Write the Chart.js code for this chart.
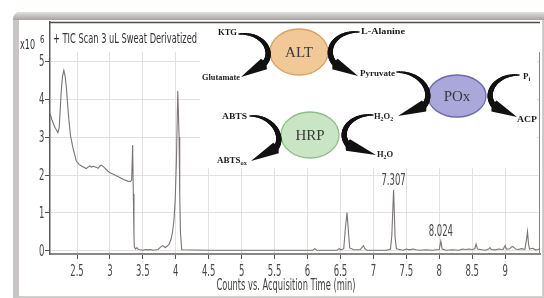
<!DOCTYPE html>
<html>
<head>
<meta charset="utf-8">
<script src="https://cdn.jsdelivr.net/npm/chart.js@4.4.1/dist/chart.umd.min.js"></script>
<style>
  html, body { margin: 0; padding: 0; background: #fff; }
  canvas { display: block; }
</style>
</head>
<body>
<canvas id="tic" width="544" height="298"></canvas>
<script>
// retention time (min) and TIC counts (x10^6)
const retentionTimes = [
  2.09, 2.12, 2.16, 2.19, 2.21, 2.23, 2.26, 2.28, 2.30, 2.32, 2.34, 2.37, 2.40, 2.44, 2.49,
  2.53, 2.57, 2.61, 2.64, 2.67, 2.69, 2.72, 2.75, 2.77, 2.80, 2.82, 2.85, 2.87, 2.90, 2.92,
  2.97, 3.01, 3.05, 3.12, 3.20, 3.27, 3.31, 3.33, 3.345, 3.355, 3.365, 3.37, 3.39, 3.41, 3.43,
  3.46, 3.50, 3.54, 3.58, 3.62, 3.65, 3.70, 3.73, 3.77, 3.80, 3.84, 3.87, 3.90, 3.93, 3.95,
  3.97, 3.99, 4.01, 4.03, 4.05, 4.06, 4.07, 4.09, 4.50, 5.00, 5.50, 6.08, 6.11, 6.14, 6.45,
  6.48, 6.51, 6.55, 6.575, 6.60, 6.62, 6.64, 6.70, 6.80, 6.83, 6.85, 6.87, 6.90, 7.20, 7.26,
  7.28, 7.307, 7.33, 7.35, 7.40, 7.45, 7.50, 7.55, 7.60, 7.65, 7.70, 7.80, 7.90, 7.95, 8.00,
  8.024, 8.045, 8.10, 8.20, 8.30, 8.35, 8.40, 8.45, 8.50, 8.54, 8.56, 8.58, 8.65, 8.70, 8.75,
  8.77, 8.79, 8.85, 8.90, 8.97, 9.00, 9.02, 9.07, 9.11, 9.13, 9.16, 9.20, 9.25, 9.30, 9.325,
  9.34, 9.355, 9.37, 9.42, 9.46, 9.50, 9.53
]
const ticCounts = [
  3.62, 3.45, 3.27, 3.18, 3.12, 3.25, 4.19, 4.60, 4.76, 4.60, 4.28, 3.58, 3.05, 2.70, 2.37,
  2.28, 2.24, 2.20, 2.17, 2.21, 2.24, 2.21, 2.23, 2.22, 2.20, 2.18, 2.24, 2.26, 2.22, 2.19,
  2.10, 2.05, 2.02, 1.96, 1.89, 1.84, 1.83, 1.86, 2.79, 1.50, 0.40, 0.11, 0.05, 0.09, 0.04,
  0.03, 0.02, 0.04, 0.03, 0.04, 0.02, 0.03, 0.04, 0.10, 0.14, 0.09, 0.13, 0.18, 0.32, 0.50,
  0.77, 1.30, 2.40, 4.21, 3.00, 1.50, 0.50, 0.03, 0.02, 0.02, 0.02, 0.02, 0.06, 0.02, 0.02,
  0.06, 0.03, 0.06, 0.60, 1.01, 0.55, 0.08, 0.03, 0.03, 0.10, 0.14, 0.06, 0.02, 0.02, 0.05,
  0.40, 1.61, 0.35, 0.06, 0.04, 0.02, 0.05, 0.03, 0.05, 0.03, 0.02, 0.03, 0.02, 0.03, 0.04,
  0.26, 0.05, 0.02, 0.03, 0.02, 0.05, 0.04, 0.05, 0.04, 0.06, 0.18, 0.05, 0.03, 0.02, 0.05,
  0.09, 0.04, 0.03, 0.05, 0.04, 0.14, 0.05, 0.06, 0.12, 0.10, 0.05, 0.04, 0.06, 0.04, 0.30,
  0.51, 0.20, 0.05, 0.07, 0.03, 0.04, 0.05
]
const xTickValues = [2.5, 3, 3.5, 4, 4.5, 5, 5.5, 6, 6.5, 7, 7.5, 8, 8.5, 9]
const yTickValues = [0, 1, 2, 3, 4, 5]
const peakTimes = [7.307, 8.024]
const peakNames = ['7.307', '8.024']

const SANS = "'Liberation Sans Narrow', 'DejaVu Sans Condensed', 'Liberation Sans', sans-serif"
const SERIF = "'Liberation Serif', 'DejaVu Serif', serif"

function fitText(ctx, s, x, y, font, align, w, color) {
  ctx.save()
  ctx.font = font
  ctx.fillStyle = color || '#333'
  ctx.textBaseline = 'middle'
  ctx.textAlign = align
  const sx = w ? w / ctx.measureText(s).width : 1
  ctx.translate(x, y)
  ctx.scale(sx, 1)
  ctx.fillText(s, 0, 0)
  ctx.restore()
}

// text with subscripts, pieces = [[text, isSub], ...]
function richText(ctx, pieces, x, y, size, bold) {
  ctx.save()
  ctx.fillStyle = '#1c1c1c'
  ctx.textBaseline = 'middle'
  ctx.textAlign = 'left'
  let cx = x
  pieces.forEach(p => {
    const fs = p[1] ? size * 0.7 : size
    ctx.font = (bold ? 'bold ' : '') + fs + 'px ' + SERIF
    ctx.fillText(p[0], cx, p[1] ? y + 2.5 : y)
    cx += ctx.measureText(p[0]).width
  })
  ctx.restore()
}

function bez(p0, c1, c2, p3, t) {
  const u = 1 - t
  return [
    u*u*u*p0[0] + 3*u*u*t*c1[0] + 3*u*t*t*c2[0] + t*t*t*p3[0],
    u*u*u*p0[1] + 3*u*u*t*c1[1] + 3*u*t*t*c2[1] + t*t*t*p3[1]
  ]
}

function curvedArrow(ctx, p0, c1, c2, p3, tip) {
  ctx.save()
  ctx.strokeStyle = '#111'
  ctx.fillStyle = '#111'
  ctx.lineCap = 'round'
  const n = 28
  let prev = p0
  for (let i = 1; i <= n; i++) {
    const pt = bez(p0, c1, c2, p3, i / n)
    ctx.lineWidth = 1.3 + 4.2 * Math.sin(Math.PI * 0.5 * i / n)
    ctx.beginPath()
    ctx.moveTo(prev[0], prev[1])
    ctx.lineTo(pt[0], pt[1])
    ctx.stroke()
    prev = pt
  }
  const dx = tip[0] - p3[0], dy = tip[1] - p3[1]
  const len = Math.hypot(dx, dy)
  const nx = -dy / len, ny = dx / len
  const hw = 6
  ctx.beginPath()
  ctx.moveTo(tip[0], tip[1])
  ctx.lineTo(p3[0] + nx * hw, p3[1] + ny * hw)
  ctx.lineTo(p3[0] - dx * 0.1, p3[1] - dy * 0.1)
  ctx.lineTo(p3[0] - nx * hw, p3[1] - ny * hw)
  ctx.closePath()
  ctx.fill()
  ctx.restore()
}

function enzyme(ctx, cx, cy, rx, ry, fill, stroke, label) {
  ctx.save()
  ctx.beginPath()
  ctx.ellipse(cx, cy, rx, ry, 0, 0, Math.PI * 2)
  ctx.fillStyle = fill
  ctx.fill()
  ctx.lineWidth = 1.3
  ctx.strokeStyle = stroke
  ctx.stroke()
  ctx.restore()
  fitText(ctx, label, cx, cy + 1, '15px ' + SERIF, 'center', 0, '#3a3a3a')
}

const framePlugin = {
  id: 'frame',
  beforeDraw(chart) {
    const ctx = chart.ctx
    ctx.save()
    ctx.fillStyle = '#fff'
    ctx.fillRect(0, 0, 544, 298)
    ctx.beginPath()
    ctx.roundRect(13, 12, 540, 300, 7)
    ctx.fillStyle = '#cbc6c6'
    ctx.fill()
    const g = ctx.createLinearGradient(0, 12, 0, 20)
    g.addColorStop(0, '#e2dfdf')
    g.addColorStop(1, '#a7a2a2')
    ctx.save()
    ctx.clip()
    ctx.fillStyle = g
    ctx.fillRect(13, 12, 540, 8)
    ctx.restore()
    ctx.fillStyle = '#fff'
    ctx.fillRect(19, 20, 524, 277)
    ctx.strokeStyle = '#d4d0d0'
    ctx.lineWidth = 1
    ctx.beginPath()
    ctx.moveTo(19, 296.5); ctx.lineTo(542.5, 296.5); ctx.lineTo(542.5, 20)
    ctx.stroke()
    ctx.restore()
  },
  beforeDatasetsDraw(chart) {
    const ctx = chart.ctx
    const a = chart.chartArea
    ctx.save()
    // white panels for the title and the reaction scheme
    ctx.fillStyle = '#fff'
    ctx.fillRect(a.left + 1, a.top, 487, 30)
    ctx.fillRect(200, a.top, 337, 146)
    ctx.strokeStyle = '#4d4d4d'
    ctx.lineWidth = 1.5
    ctx.beginPath()
    ctx.moveTo(a.left, a.top + 0.5); ctx.lineTo(a.right, a.top + 0.5)
    ctx.stroke()
    ctx.strokeStyle = '#8a8686'
    ctx.lineWidth = 1
    ctx.beginPath()
    ctx.moveTo(a.right - 0.5, a.top + 30); ctx.lineTo(a.right - 0.5, a.bottom)
    ctx.stroke()
    ctx.restore()
  },
  afterDraw(chart) {
    const ctx = chart.ctx
    const xs = chart.scales.x, ys = chart.scales.y
    const TF = '16px ' + SANS
    ctx.save()
    ctx.font = TF
    const tsx = 13.5 / ctx.measureText('2.5').width
    ctx.restore()
    const tickW = s => { ctx.save(); ctx.font = TF; const w = ctx.measureText(s).width * tsx; ctx.restore(); return w }
    xTickValues.forEach(v => {
      const s = String(v)
      fitText(ctx, s, xs.getPixelForValue(v), 272, TF, 'center', tickW(s), '#474747')
    })
    yTickValues.forEach(v => {
      const s = String(v)
      fitText(ctx, s, 44.5, ys.getPixelForValue(v) + 0.5, TF, 'right', tickW(s), '#474747')
    })
    fitText(ctx, 'Counts vs. Acquisition Time (min)', 286, 286, '15px ' + SANS, 'center', 139, '#3f3f3f')
    fitText(ctx, '+ TIC Scan 3 uL Sweat Derivatized', 53, 39, '14px ' + SANS, 'left', 144, '#333')
    fitText(ctx, 'x10', 20, 45, '14px ' + SANS, 'left', 15, '#333')
    fitText(ctx, '6', 40, 40, '11px ' + SANS, 'left', 4.5, '#333')

    // peak annotations
    peakTimes.forEach((t, i) => {
      const k = retentionTimes.indexOf(t)
      const px = xs.getPixelForValue(t)
      const py = ys.getPixelForValue(ticCounts[k])
      fitText(ctx, peakNames[i], px, py - 9, TF, 'center', tickW(peakNames[i]), '#474747')
    })

    // reaction scheme inset
    enzyme(ctx, 299, 52, 29, 23, '#f3c897', '#d7a163', 'ALT')
    enzyme(ctx, 457, 96, 29, 21, '#aaa7da', '#6f6aa9', 'POx')
    enzyme(ctx, 310, 135, 29, 23, '#c9e5c3', '#8dbf89', 'HRP')

    curvedArrow(ctx, [239, 34], [263, 32], [275, 52], [264, 64], [241, 77])
    curvedArrow(ctx, [359, 32], [335, 31], [323, 50], [335, 64], [358, 76])
    curvedArrow(ctx, [397, 72], [421, 72], [435, 92], [424, 106], [398, 116])
    curvedArrow(ctx, [519, 75], [497, 74], [483, 92], [494, 106], [517, 117])
    curvedArrow(ctx, [250, 116], [271, 115], [285, 135], [276, 148], [251, 161])
    curvedArrow(ctx, [373, 115], [351, 114], [337, 131], [348, 145], [376, 155])

    fitText(ctx, 'KTG', 237, 33, 'bold 8px ' + SERIF, 'right', 19, '#1c1c1c')
    fitText(ctx, 'Glutamate', 202, 78, 'bold 8px ' + SERIF, 'left', 38, '#1c1c1c')
    fitText(ctx, 'L-Alanine', 361, 32, 'bold 9px ' + SERIF, 'left', 44, '#1c1c1c')
    fitText(ctx, 'Pyruvate', 360, 74, 'bold 8px ' + SERIF, 'left', 35, '#1c1c1c')
    richText(ctx, [['P', false], ['i', true]], 523, 77, 9, true)
    fitText(ctx, 'ACP', 517, 120, 'bold 8px ' + SERIF, 'left', 20, '#1c1c1c')
    fitText(ctx, 'ABTS', 222, 117, 'bold 8px ' + SERIF, 'left', 25, '#1c1c1c')
    richText(ctx, [['ABTS', false], ['ox', true]], 217, 161, 9, true)
    richText(ctx, [['H', false], ['2', true], ['O', false], ['2', true]], 374, 117, 8.5, true)
    richText(ctx, [['H', false], ['2', true], ['O', false]], 377, 155, 8.5, true)
  }
}

const ctx1 = document.getElementById('tic')
const ticChart = new Chart(ctx1, {
  type: 'line',
  data: {
    datasets: [{
      label: 'TIC',
      data: retentionTimes.map((t, i) => ({ x: t, y: ticCounts[i] })),
      borderColor: '#7b7575',
      borderWidth: 1.1,
      pointRadius: 0,
      tension: 0,
      fill: false
    }]
  },
  options: {
    responsive: false,
    animation: false,
    devicePixelRatio: 1,
    layout: { padding: { top: 22, right: 4, left: 0, bottom: 0 } },
    plugins: { legend: { display: false }, tooltip: { enabled: false } },
    scales: {
      x: {
        type: 'linear',
        min: 2.09,
        max: 9.53,
        afterBuildTicks: s => { s.ticks = xTickValues.map(v => ({ value: v })) },
        afterFit: s => { s.height = 44 },
        ticks: { display: false },
        grid: { color: '#e4e0e0', lineWidth: 1, tickLength: 5, tickColor: '#555', drawTicks: true },
        border: { color: '#8a8686', width: 2 }
      },
      y: {
        min: -0.08,
        max: 6.03,
        afterBuildTicks: s => { s.ticks = yTickValues.map(v => ({ value: v })) },
        afterFit: s => { s.width = 50 },
        ticks: { display: false },
        grid: { color: '#e4e0e0', lineWidth: 1, tickLength: 5, tickColor: '#555', drawTicks: true },
        border: { color: '#5a5a5a', width: 1.5 }
      }
    }
  },
  plugins: [framePlugin]
})
</script>
</body>
</html>
